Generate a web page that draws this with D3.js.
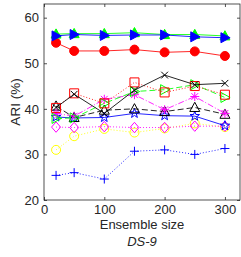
<!DOCTYPE html>
<html><head><meta charset="utf-8">
<script src="https://cdn.jsdelivr.net/npm/d3@7"></script>
<style>body{margin:0;background:#fff}svg{display:block}text{font-family:"Liberation Sans",Arial,sans-serif;fill:#262626}</style>
</head><body><svg id="c" width="241" height="257"></svg>
<script>
const ensembleSizes = [20, 50, 100, 150, 200, 250, 300];
const xTicks = [0, 100, 200, 300];
const yTicks = [20, 30, 40, 50, 60];
const s1 = [56.4, 56.5, 56.5, 56.7, 56.3, 56.3, 56.0]; // green ^ filled
const s2 = [56.0, 56.3, 56.1, 56.2, 56.2, 55.8, 55.6]; // blue > filled
const s3 = [54.5, 52.7, 52.7, 53.0, 52.4, 52.6, 51.6]; // red o filled
const s4 = [40.3, 43.2, 39.0, 44.1, 47.4, 45.3, 45.6]; // black x
const s5 = [40.2, 43.4, 41.2, 45.8, 43.6, 45.0, 43.1]; // red square dotted
const s6 = [37.9, 38.0, 41.2, 43.8, 44.2, 45.3, 42.5]; // green > dashed
const s7 = [39.0, 38.4, 42.1, 43.1, 39.8, 42.7, 39.0]; // magenta * dashdot
const s8 = [40.6, 38.1, 39.7, 40.0, 39.4, 40.3, 38.8]; // black ^ dashed
const s9 = [38.2, 38.0, 38.1, 39.0, 38.5, 38.4, 36.3]; // blue pentagram
const s10 = [36.0, 35.9, 36.1, 35.9, 35.9, 36.2, 36.2]; // magenta diamond dotted
const s11 = [31.0, 34.0, 35.6, 34.8, 35.7, 36.8, 36.0]; // yellow o dotted
const s12 = [25.4, 26.0, 24.6, 30.7, 31.0, 30.0, 31.3]; // blue + dotted

const series = [
  {v:s12, c:"#0000ff", dash:"1,2", m:"plus", fill:false},
  {v:s11, c:"#ffff00", dash:"1,2", m:"circle", fill:false},
  {v:s10, c:"#ff00ff", dash:"1,2", m:"diamond", fill:false},
  {v:s9, c:"#0000ff", dash:null, m:"star", fill:false},
  {v:s8, c:"#000000", dash:"6,3", m:"tri", fill:false},
  {v:s7, c:"#ff00ff", dash:"6,2,1,2", m:"asterisk", fill:false},
  {v:s6, c:"#00ff00", dash:"6,3", m:"triR", fill:false},
  {v:s5, c:"#ff0000", dash:"1,2", m:"square", fill:false},
  {v:s4, c:"#000000", dash:null, m:"x", fill:false},
  {v:s3, c:"#ff0000", dash:null, m:"circle", fill:true},
  {v:s1, c:"#00ff00", dash:null, m:"tri", fill:true},
  {v:s2, c:"#0000ff", dash:null, m:"triR", fill:true}
];

const L=44, R=240, T=4, B=200;
const x = d3.scaleLinear().domain([0,325]).range([L,R]);
const y = d3.scaleLinear().domain([20,63]).range([B,T]);
const svg = d3.select("#c");

svg.append("rect").attr("x",L).attr("y",T).attr("width",R-L).attr("height",B-T)
  .attr("fill","#fff").attr("stroke","#262626").attr("stroke-width",0.8);

const gx = svg.append("g").attr("transform",`translate(0,${B})`)
  .call(d3.axisBottom(x).tickValues(xTicks).tickSize(-3).tickPadding(5));
const gx2 = svg.append("g").attr("transform",`translate(0,${T})`)
  .call(d3.axisTop(x).tickValues(xTicks).tickSize(-3).tickFormat(""));
const gy = svg.append("g").attr("transform",`translate(${L},0)`)
  .call(d3.axisLeft(y).tickValues(yTicks).tickSize(-3).tickPadding(5));
const gy2 = svg.append("g").attr("transform",`translate(${R},0)`)
  .call(d3.axisRight(y).tickValues(yTicks).tickSize(-3).tickFormat(""));
[gx,gx2,gy,gy2].forEach(g=>{
  g.select(".domain").remove();
  g.selectAll("line").attr("stroke","#262626").attr("stroke-width",0.8);
  g.selectAll("text").attr("font-size",13).attr("fill","#262626").attr("font-family","Liberation Sans, Arial, sans-serif");
});

function markerPath(m, cx, cy){
  const r=4.5;
  switch(m){
    case "circle": return `M${cx+r},${cy}A${r},${r},0,1,1,${cx-r},${cy}A${r},${r},0,1,1,${cx+r},${cy}Z`;
    case "square": return `M${cx-r},${cy-r}H${cx+r}V${cy+r}H${cx-r}Z`;
    case "diamond": return `M${cx},${cy-r-0.7}L${cx+r},${cy}L${cx},${cy+r+0.7}L${cx-r},${cy}Z`;
    case "tri": return `M${cx},${cy-r-0.7}L${cx+r+0.5},${cy+r-0.5}L${cx-r-0.5},${cy+r-0.5}Z`;
    case "triR": return `M${cx+r+0.7},${cy}L${cx-r+0.5},${cy-r-0.5}L${cx-r+0.5},${cy+r+0.5}Z`;
    case "plus": return `M${cx-r},${cy}H${cx+r}M${cx},${cy-r}V${cy+r}`;
    case "x": return `M${cx-r*0.75},${cy-r*0.75}L${cx+r*0.75},${cy+r*0.75}M${cx-r*0.75},${cy+r*0.75}L${cx+r*0.75},${cy-r*0.75}`;
    case "asterisk": {
      const a=r*0.75; return `M${cx-r},${cy}H${cx+r}M${cx},${cy-r}V${cy+r}M${cx-a},${cy-a}L${cx+a},${cy+a}M${cx-a},${cy+a}L${cx+a},${cy-a}`;
    }
    case "star": {
      let p=""; const ro=r+0.5, ri=ro*0.4;
      for(let i=0;i<10;i++){const rr=i%2?ri:ro; const ang=-Math.PI/2+i*Math.PI/5;
        p+=(i?"L":"M")+(cx+rr*Math.cos(ang))+","+(cy+rr*Math.sin(ang));}
      return p+"Z";
    }
  }
}

const line = d3.line().x((d,i)=>x(ensembleSizes[i])).y(d=>y(d));
series.forEach(s=>{
  const g = svg.append("g");
  g.append("path").attr("d",line(s.v)).attr("fill","none").attr("stroke",s.c)
    .attr("stroke-width",1).attr("stroke-dasharray",s.dash).attr("opacity",0.85);
  g.selectAll("path.m").data(s.v).join("path").attr("class","m")
    .attr("d",(d,i)=>markerPath(s.m, x(ensembleSizes[i]), y(d)))
    .attr("fill",s.fill?s.c:"none").attr("stroke",s.c).attr("stroke-width",1);
});

svg.append("text").attr("x",x(162.5)).attr("y",229).attr("text-anchor","middle")
  .attr("font-size",13).text("Ensemble size");
svg.append("text").attr("x",x(162.5)).attr("y",246).attr("text-anchor","middle")
  .attr("font-size",13).attr("font-style","italic").text("DS-9");
svg.append("text").attr("transform",`translate(20,${(T+B)/2}) rotate(-90)`)
  .attr("text-anchor","middle").attr("font-size",13.5).text("ARI (%)");
</script></body></html>
